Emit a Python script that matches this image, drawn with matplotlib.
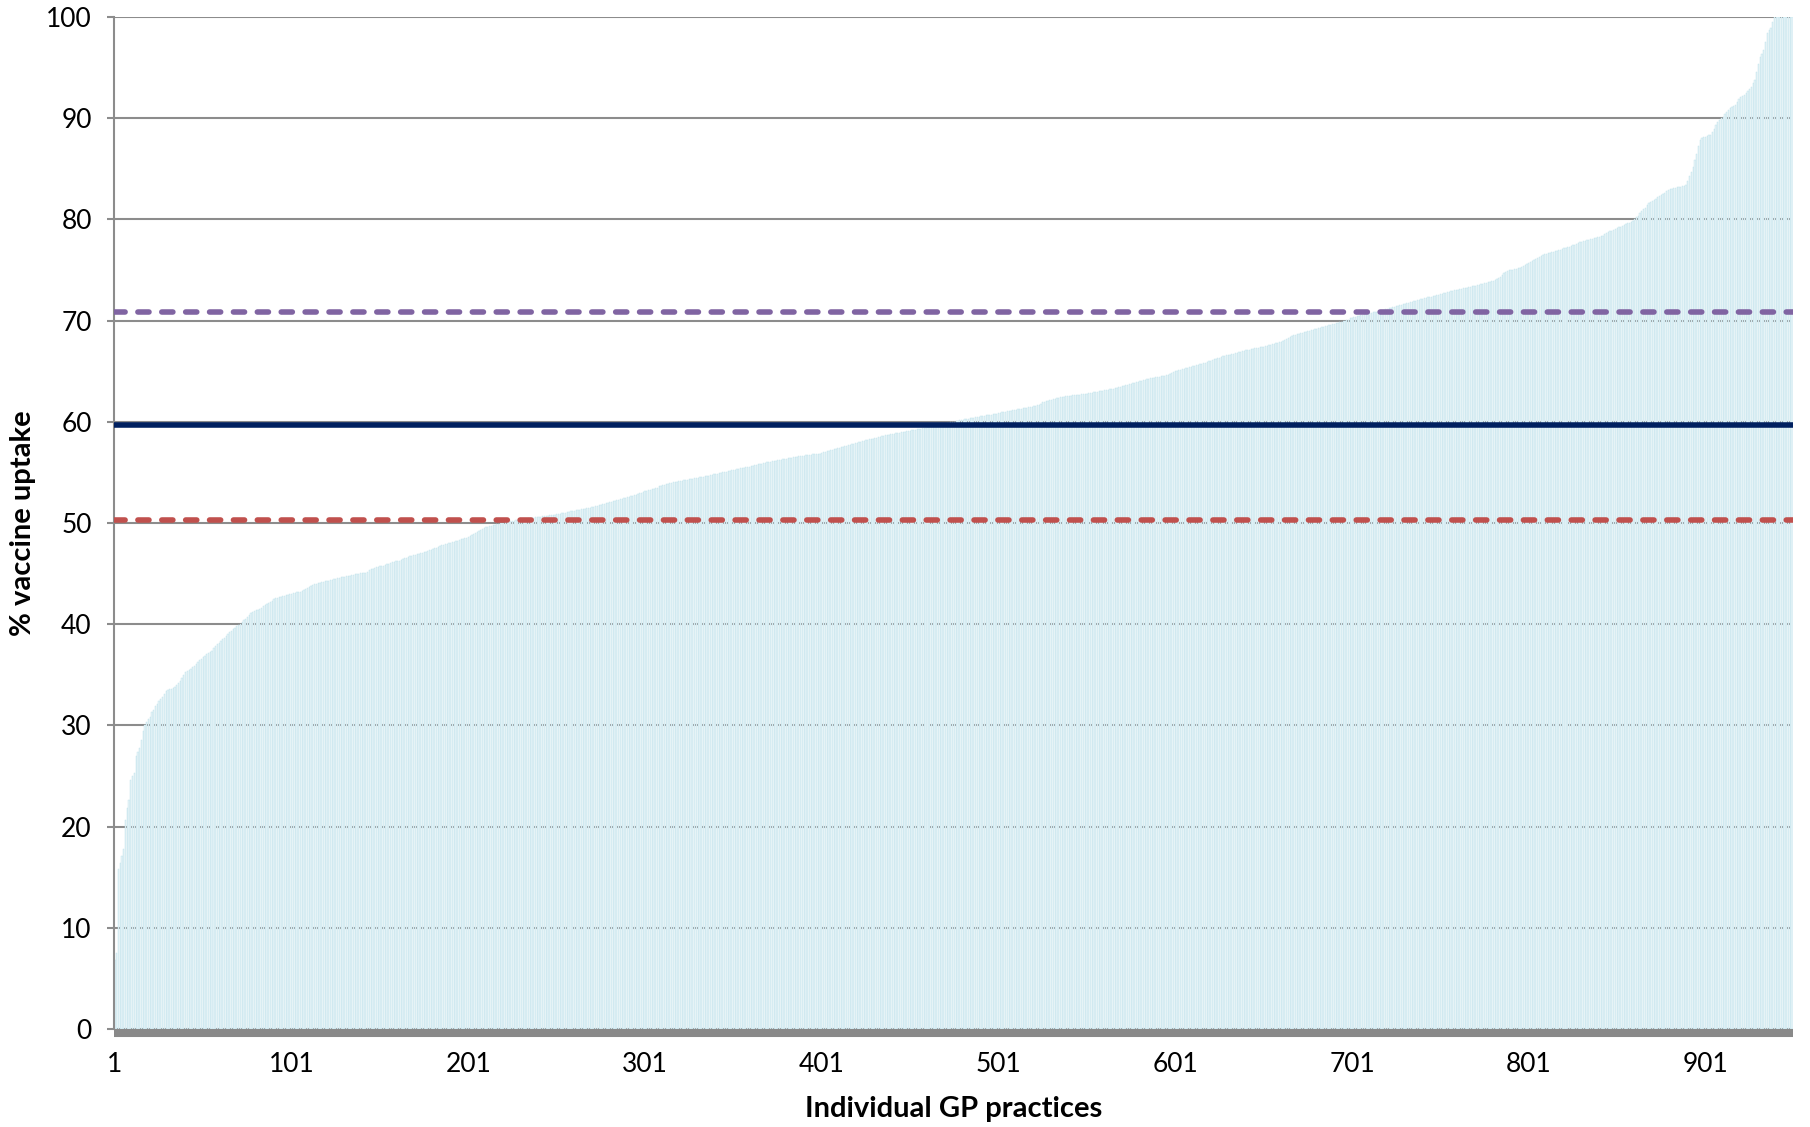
import numpy as np
import matplotlib
matplotlib.use("Agg")
import matplotlib.pyplot as plt

plt.rcParams['font.family'] = ['Lato', 'DejaVu Sans']

# % vaccine uptake per GP practice, sorted ascending
uptake = [
	6.8, 7.5, 15.8, 16.4, 17.1, 17.8, 20.6, 21.8, 22.6, 24.6,
	25.0, 25.3, 27.0, 27.4, 27.8, 28.6, 29.4, 30.0, 30.3, 30.6,
	30.8, 31.3, 31.5, 31.9, 32.1, 32.4, 32.6, 32.8, 33.1, 33.4,
	33.5, 33.6, 33.6, 33.7, 33.8, 34.0, 34.2, 34.4, 34.7, 35.0,
	35.3, 35.4, 35.5, 35.6, 35.8, 35.9, 36.1, 36.3, 36.5, 36.6,
	36.8, 36.9, 37.0, 37.1, 37.2, 37.3, 37.6, 37.8, 38.0, 38.1,
	38.3, 38.5, 38.6, 38.8, 39.0, 39.2, 39.3, 39.5, 39.6, 39.8,
	39.9, 40.0, 40.2, 40.4, 40.5, 40.7, 40.9, 41.1, 41.2, 41.3,
	41.4, 41.4, 41.5, 41.6, 41.8, 41.9, 42.0, 42.1, 42.2, 42.3,
	42.5, 42.6, 42.6, 42.7, 42.7, 42.8, 42.8, 42.9, 42.9, 43.0,
	43.0, 43.1, 43.1, 43.2, 43.2, 43.2, 43.3, 43.4, 43.5, 43.6,
	43.7, 43.8, 43.9, 44.0, 44.0, 44.1, 44.1, 44.2, 44.2, 44.3,
	44.3, 44.3, 44.4, 44.4, 44.5, 44.5, 44.6, 44.6, 44.7, 44.7,
	44.7, 44.8, 44.8, 44.8, 44.9, 44.9, 45.0, 45.0, 45.0, 45.1,
	45.1, 45.1, 45.1, 45.2, 45.3, 45.4, 45.4, 45.5, 45.6, 45.6,
	45.7, 45.7, 45.7, 45.8, 45.9, 45.9, 46.0, 46.1, 46.1, 46.2,
	46.2, 46.2, 46.3, 46.4, 46.5, 46.5, 46.6, 46.7, 46.7, 46.8,
	46.8, 46.9, 46.9, 47.0, 47.0, 47.1, 47.1, 47.2, 47.3, 47.3,
	47.4, 47.5, 47.5, 47.6, 47.7, 47.8, 47.8, 47.9, 47.9, 48.0,
	48.0, 48.1, 48.1, 48.2, 48.2, 48.3, 48.4, 48.4, 48.5, 48.5,
	48.6, 48.7, 48.8, 48.9, 49.0, 49.1, 49.2, 49.3, 49.4, 49.5,
	49.6, 49.6, 49.7, 49.7, 49.8, 49.8, 49.9, 49.9, 50.0, 50.0,
	50.0, 50.1, 50.1, 50.1, 50.2, 50.2, 50.2, 50.3, 50.3, 50.3,
	50.3, 50.4, 50.4, 50.4, 50.5, 50.5, 50.5, 50.5, 50.6, 50.6,
	50.6, 50.6, 50.7, 50.7, 50.7, 50.7, 50.8, 50.8, 50.8, 50.8,
	50.9, 50.9, 50.9, 51.0, 51.0, 51.0, 51.1, 51.1, 51.2, 51.2,
	51.2, 51.3, 51.3, 51.3, 51.4, 51.4, 51.4, 51.5, 51.5, 51.5,
	51.6, 51.6, 51.7, 51.7, 51.8, 51.8, 51.9, 51.9, 52.0, 52.0,
	52.1, 52.1, 52.2, 52.2, 52.3, 52.3, 52.4, 52.4, 52.5, 52.5,
	52.6, 52.6, 52.7, 52.7, 52.8, 52.8, 52.9, 53.0, 53.0, 53.1,
	53.2, 53.2, 53.3, 53.3, 53.4, 53.4, 53.5, 53.5, 53.6, 53.6,
	53.7, 53.7, 53.8, 53.8, 53.9, 53.9, 54.0, 54.0, 54.0, 54.1,
	54.1, 54.1, 54.2, 54.2, 54.2, 54.3, 54.3, 54.3, 54.4, 54.4,
	54.4, 54.5, 54.5, 54.5, 54.6, 54.6, 54.6, 54.7, 54.7, 54.8,
	54.8, 54.8, 54.9, 54.9, 55.0, 55.0, 55.0, 55.1, 55.1, 55.2,
	55.2, 55.2, 55.3, 55.3, 55.4, 55.4, 55.4, 55.5, 55.5, 55.5,
	55.6, 55.6, 55.7, 55.7, 55.8, 55.8, 55.8, 55.9, 55.9, 56.0,
	56.0, 56.0, 56.1, 56.1, 56.1, 56.2, 56.2, 56.2, 56.3, 56.3,
	56.3, 56.4, 56.4, 56.4, 56.5, 56.5, 56.5, 56.6, 56.6, 56.6,
	56.6, 56.7, 56.7, 56.7, 56.7, 56.8, 56.8, 56.8, 56.8, 56.8,
	56.9, 57.0, 57.0, 57.1, 57.1, 57.2, 57.2, 57.3, 57.3, 57.4,
	57.4, 57.5, 57.5, 57.6, 57.6, 57.7, 57.7, 57.8, 57.8, 57.9,
	57.9, 58.0, 58.0, 58.1, 58.1, 58.2, 58.2, 58.3, 58.3, 58.3,
	58.4, 58.4, 58.5, 58.5, 58.6, 58.6, 58.7, 58.7, 58.7, 58.8,
	58.8, 58.8, 58.9, 58.9, 58.9, 59.0, 59.0, 59.0, 59.1, 59.1,
	59.1, 59.2, 59.2, 59.2, 59.3, 59.3, 59.3, 59.4, 59.4, 59.4,
	59.5, 59.5, 59.5, 59.6, 59.6, 59.7, 59.7, 59.7, 59.8, 59.8,
	59.8, 59.9, 59.9, 60.0, 60.0, 60.0, 60.1, 60.1, 60.2, 60.2,
	60.2, 60.3, 60.3, 60.3, 60.4, 60.4, 60.4, 60.5, 60.5, 60.5,
	60.6, 60.6, 60.6, 60.7, 60.7, 60.7, 60.7, 60.8, 60.8, 60.8,
	60.9, 60.9, 61.0, 61.0, 61.0, 61.1, 61.1, 61.1, 61.2, 61.2,
	61.2, 61.3, 61.3, 61.3, 61.4, 61.4, 61.4, 61.5, 61.5, 61.5,
	61.6, 61.6, 61.7, 61.7, 61.8, 61.9, 61.9, 62.0, 62.0, 62.1,
	62.1, 62.2, 62.2, 62.3, 62.3, 62.4, 62.4, 62.4, 62.5, 62.5,
	62.5, 62.5, 62.6, 62.6, 62.6, 62.6, 62.6, 62.7, 62.7, 62.7,
	62.7, 62.8, 62.8, 62.8, 62.9, 62.9, 62.9, 63.0, 63.0, 63.0,
	63.1, 63.1, 63.1, 63.2, 63.2, 63.2, 63.3, 63.3, 63.4, 63.4,
	63.5, 63.5, 63.6, 63.6, 63.7, 63.7, 63.8, 63.8, 63.9, 63.9,
	64.0, 64.0, 64.1, 64.1, 64.2, 64.2, 64.3, 64.3, 64.3, 64.4,
	64.4, 64.4, 64.5, 64.5, 64.5, 64.6, 64.6, 64.7, 64.8, 64.9,
	65.0, 65.0, 65.1, 65.1, 65.2, 65.2, 65.3, 65.3, 65.4, 65.4,
	65.5, 65.5, 65.6, 65.6, 65.7, 65.7, 65.8, 65.8, 65.9, 66.0,
	66.0, 66.1, 66.2, 66.2, 66.3, 66.3, 66.4, 66.5, 66.5, 66.6,
	66.6, 66.6, 66.7, 66.7, 66.8, 66.8, 66.9, 66.9, 67.0, 67.0,
	67.1, 67.1, 67.1, 67.2, 67.2, 67.3, 67.3, 67.3, 67.4, 67.4,
	67.4, 67.5, 67.5, 67.6, 67.6, 67.7, 67.7, 67.8, 67.8, 67.9,
	67.9, 68.0, 68.1, 68.2, 68.3, 68.4, 68.5, 68.6, 68.6, 68.7,
	68.7, 68.8, 68.8, 68.9, 68.9, 69.0, 69.0, 69.1, 69.1, 69.2,
	69.2, 69.3, 69.3, 69.4, 69.4, 69.5, 69.5, 69.6, 69.6, 69.7,
	69.7, 69.8, 69.8, 69.9, 69.9, 70.0, 70.0, 70.1, 70.1, 70.2,
	70.2, 70.3, 70.3, 70.4, 70.4, 70.5, 70.5, 70.6, 70.6, 70.6,
	70.7, 70.7, 70.8, 70.8, 70.8, 70.9, 70.9, 71.0, 71.0, 71.1,
	71.1, 71.2, 71.2, 71.3, 71.3, 71.4, 71.4, 71.5, 71.5, 71.6,
	71.6, 71.7, 71.7, 71.8, 71.8, 71.9, 71.9, 72.0, 72.0, 72.1,
	72.1, 72.2, 72.2, 72.3, 72.3, 72.3, 72.4, 72.4, 72.5, 72.5,
	72.6, 72.6, 72.7, 72.7, 72.8, 72.8, 72.9, 72.9, 73.0, 73.0,
	73.0, 73.1, 73.1, 73.2, 73.2, 73.2, 73.3, 73.3, 73.4, 73.4,
	73.4, 73.5, 73.5, 73.6, 73.6, 73.7, 73.7, 73.8, 73.8, 73.9,
	73.9, 74.0, 74.1, 74.2, 74.3, 74.5, 74.7, 74.8, 74.9, 75.0,
	75.0, 75.0, 75.1, 75.1, 75.2, 75.2, 75.3, 75.4, 75.5, 75.6,
	75.7, 75.8, 75.9, 76.0, 76.1, 76.2, 76.3, 76.4, 76.5, 76.6,
	76.6, 76.7, 76.7, 76.8, 76.8, 76.9, 76.9, 77.0, 77.0, 77.1,
	77.2, 77.2, 77.3, 77.3, 77.4, 77.5, 77.5, 77.6, 77.7, 77.8,
	77.8, 77.9, 77.9, 78.0, 78.0, 78.1, 78.1, 78.2, 78.2, 78.3,
	78.3, 78.4, 78.4, 78.5, 78.6, 78.7, 78.8, 78.8, 78.9, 79.0,
	79.1, 79.2, 79.2, 79.3, 79.4, 79.5, 79.6, 79.6, 79.7, 79.8,
	80.0, 80.2, 80.3, 80.6, 80.8, 81.0, 81.1, 81.4, 81.6, 81.7,
	81.8, 81.9, 82.0, 82.2, 82.3, 82.4, 82.5, 82.6, 82.8, 82.9,
	83.0, 83.0, 83.1, 83.1, 83.2, 83.2, 83.2, 83.3, 83.3, 83.4,
	83.8, 84.3, 84.7, 85.2, 85.9, 86.5, 87.2, 87.8, 88.0, 88.1,
	88.1, 88.2, 88.3, 88.3, 88.6, 88.9, 89.3, 89.6, 89.8, 90.0,
	90.1, 90.4, 90.6, 90.8, 91.0, 91.1, 91.2, 91.3, 91.6, 91.9,
	92.1, 92.2, 92.3, 92.5, 92.7, 92.9, 93.1, 93.5, 93.8, 94.6,
	95.3, 96.0, 96.3, 96.7, 97.5, 98.4, 98.7, 98.9, 99.5, 100.0,
	100.0, 100.0, 100.0, 100.0, 100.0, 100.0, 100.0, 100.0, 100.0, 100.0,
]

# reference lines: upper, overall, lower
line_values = [70.8, 59.7, 50.3]
line_colors = ["#8064A2", "#002060", "#C0504D"]
line_styles = ["dashed", "solid", "dashed"]

y_ticks = [0, 10, 20, 30, 40, 50, 60, 70, 80, 90, 100]
x_tick_positions = [1, 101, 201, 301, 401, 501, 601, 701, 801, 901]

practices = np.arange(1, len(uptake) + 1)

fig = plt.figure(figsize=(18.10, 11.27), dpi=100)
ax = fig.add_axes([0.063, 0.087, 0.9276, 0.898])

ax.bar(practices, uptake, width=0.7, color="#e8f5f9", edgecolor="#bde0ea",
	linewidth=0.3, zorder=2)

for val, col, style in zip(line_values, line_colors, line_styles):
	if style == "dashed":
		ax.axhline(val, color=col, lw=4, linestyle=(0, (2.0, 2.3)),
			dash_capstyle="round", zorder=4)
	else:
		ax.axhline(val, color=col, lw=4, zorder=4)

ax.set_xlim(0.5, len(uptake) + 0.5)
ax.set_ylim(0, 100)
ax.set_yticks(y_ticks)
ax.set_xticks(x_tick_positions)
ax.set_xticklabels([str(v) for v in x_tick_positions])

ax.grid(axis="y", color="#8c8c8c", lw=1.5, zorder=1)
ax.set_axisbelow(True)

for side in ["top", "right"]:
	ax.spines[side].set_visible(False)
ax.spines["left"].set_color("#8c8c8c")
ax.spines["left"].set_linewidth(1.5)
ax.spines["bottom"].set_color("#898989")
ax.spines["bottom"].set_linewidth(5.8)
ax.spines["bottom"].set_position(("outward", 2.9))
ax.spines["bottom"].set_capstyle("butt")

ax.tick_params(axis="y", length=5, width=1.5, color="#8c8c8c", pad=11,
	labelsize=19)
ax.tick_params(axis="x", length=0, pad=14, labelsize=19)

fig.text(0.0127, 0.536, "% vaccine uptake", rotation=90, ha="center",
	va="center", fontsize=21, fontweight="bold")
fig.text(0.527, 0.016, "Individual GP practices", ha="center", va="center",
	fontsize=21, fontweight="bold")

plt.savefig("out.png", dpi=100)
